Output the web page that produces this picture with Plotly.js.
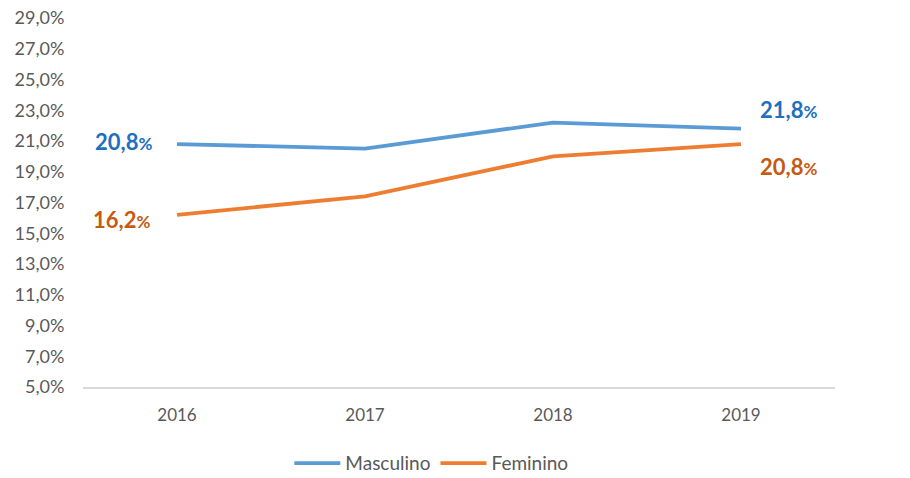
<!DOCTYPE html>
<html>
<head>
<meta charset="utf-8">
<script src="https://cdn.plot.ly/plotly-3.0.1.min.js"></script>
<style>html,body{margin:0;padding:0;background:#fff;}#chart{width:910px;height:478px;}</style>
</head>
<body>
<div id="chart"></div>
<script>
const years = ['2016', '2017', '2018', '2019'];
const masculino = [20.8, 20.5, 22.2, 21.8];
const feminino = [16.2, 17.4, 20.0, 20.8];
const yTicks = [5, 7, 9, 11, 13, 15, 17, 19, 21, 23, 25, 27, 29];

const FONT = 'Lato, "Open Sans", sans-serif';
const BLUE = '#5B9BD5', ORANGE = '#ED7D31';
const BLUE_T = '#1F6FBF', ORANGE_T = '#C55A11';

function fmt(v) { return v.toFixed(1).replace('.', ','); }
function lbl(v) {
  return '<b>' + fmt(v) + '</b><span style="font-size:17px"><b>%</b></span>';
}

const traces = [
  {x: years, y: masculino, name: 'Masculino', type: 'scatter', mode: 'lines',
   line: {color: BLUE, width: 3.8}},
  {x: years, y: feminino, name: 'Feminino', type: 'scatter', mode: 'lines',
   line: {color: ORANGE, width: 3.8}}
];

const last = years.length - 1;
// category axis annotations use the category serial number
const annotations = [
  {x: 0, y: masculino[0], text: lbl(masculino[0]), showarrow: false, xanchor: 'right', yanchor: 'middle', xshift: -23, yshift: 3, font: {size: 22, color: BLUE_T, family: FONT}},
  {x: 0, y: feminino[0], text: lbl(feminino[0]), showarrow: false, xanchor: 'right', yanchor: 'middle', xshift: -25, yshift: -5, font: {size: 22, color: ORANGE_T, family: FONT}},
  {x: last, y: masculino[last], text: lbl(masculino[last]), showarrow: false, xanchor: 'left', yanchor: 'middle', xshift: 17, yshift: 19, font: {size: 22, color: BLUE_T, family: FONT}},
  {x: last, y: feminino[last], text: lbl(feminino[last]), showarrow: false, xanchor: 'left', yanchor: 'middle', xshift: 17, yshift: -22, font: {size: 22, color: ORANGE_T, family: FONT}}
];

const layout = {
  width: 910, height: 478,
  margin: {l: 83, r: 75, t: 18, b: 91},
  paper_bgcolor: '#fff', plot_bgcolor: '#fff',
  font: {family: FONT, size: 17, color: '#595959'},
  showlegend: true,
  legend: {orientation: 'h', x: 0.474, xanchor: 'center', xref: 'container', yref: 'container', y: 0.031, yanchor: 'middle',
           font: {size: 19, color: '#595959'}, itemwidth: 46, tracegroupgap: 0},
  xaxis: {type: 'category', categoryorder: 'array', categoryarray: years, range: [-0.5, years.length - 0.5],
          showgrid: false, zeroline: false, showline: true, linecolor: '#D9D9D9', linewidth: 1.5,
          ticks: 'outside', ticklen: 12, tickcolor: 'rgba(0,0,0,0)', tickfont: {size: 17, color: '#595959'}},
  yaxis: {range: [5, 29], tickvals: yTicks, ticktext: yTicks.map(v => fmt(v) + '%'), showgrid: false, zeroline: false,
          showline: false, ticks: 'outside', ticklen: 14, tickcolor: 'rgba(0,0,0,0)', tickfont: {size: 18, color: '#595959'}},
  annotations: annotations
};

Plotly.newPlot('chart', traces, layout, {displayModeBar: false, staticPlot: true});
</script>
</body>
</html>
